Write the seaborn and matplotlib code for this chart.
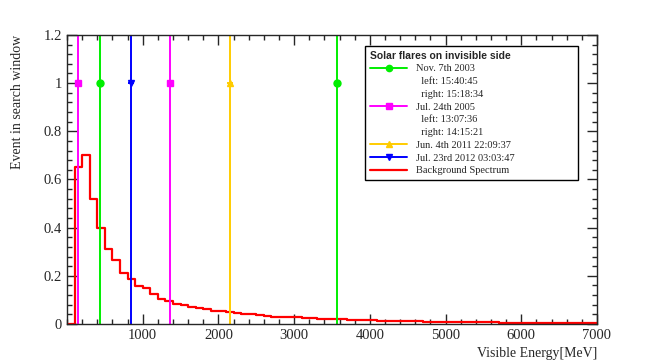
import numpy as np
import pandas as pd
import matplotlib
matplotlib.use('Agg')
import matplotlib.pyplot as plt
import seaborn as sns
from matplotlib.lines import Line2D
from matplotlib.ticker import MultipleLocator, FormatStrFormatter

# background spectrum, 100 MeV bins from 0 to 7000
bin_edges = list(range(0, 7001, 100))
bg_values = [0.0, 0.65, 0.70, 0.52, 0.40, 0.31, 0.265, 0.21, 0.185, 0.158,
             0.148, 0.125, 0.104, 0.097, 0.085, 0.077, 0.072, 0.066, 0.062, 0.055,
             0.052, 0.048, 0.045, 0.042, 0.040, 0.036, 0.033, 0.031, 0.030, 0.028,
             0.027, 0.025, 0.023, 0.022, 0.021, 0.020, 0.020, 0.018, 0.018, 0.016,
             0.015, 0.014, 0.013, 0.012, 0.012, 0.011, 0.011, 0.010, 0.010, 0.009,
             0.009, 0.008, 0.008, 0.008, 0.007, 0.007, 0.007, 0.006, 0.006, 0.006,
             0.006, 0.005, 0.005, 0.005, 0.005, 0.005, 0.004, 0.004, 0.004, 0.004]

# solar flare energies (MeV)
nov2003 = [438, 3568]
jul2005 = [141, 1355]
jun2011 = [2155]
jul2012 = [846]
flare_events = 1.0

sns.set_style('ticks')
plt.rcParams['font.family'] = ['Liberation Serif', 'DejaVu Serif']

fig = plt.figure(figsize=(6.64, 3.6), dpi=100)
ax = fig.add_axes([0.101, 0.1, 0.798, 0.803])

df = pd.DataFrame({'energy': [e + 50 for e in bin_edges[:-1]], 'events': bg_values})
sns.histplot(data=df, x='energy', weights='events', bins=bin_edges, element='step',
             fill=False, color='red', linewidth=1.6, ax=ax)

flares = [
    (nov2003, '#00ee00', 'o', 5),
    (jul2005, '#ff00ff', 's', 5),
    (jun2011, '#ffcc00', '^', 5),
    (jul2012, '#0000ff', 'v', 5),
]
for xs, col, mk, ms in flares:
    for x in xs:
        ax.axvline(x, color=col, lw=1.4)
        ax.errorbar(x, flare_events, xerr=40, color=col, marker=mk, ms=ms, lw=1.4)

ax.set_xlim(0, 7000)
ax.set_ylim(0, 1.2)
ax.xaxis.set_major_locator(MultipleLocator(1000))
ax.xaxis.set_minor_locator(MultipleLocator(200))
ax.yaxis.set_major_locator(MultipleLocator(0.2))
ax.yaxis.set_minor_locator(MultipleLocator(0.04))
ax.yaxis.set_major_formatter(FormatStrFormatter('%g'))
ax.tick_params(which='both', direction='in', top=True, right=True, labelsize=10.5, width=1)
ax.tick_params(which='major', length=7)
ax.tick_params(which='minor', length=3.5)
for s in ax.spines.values():
    s.set_linewidth(1)
ax.set_xticks([1000, 2000, 3000, 4000, 5000, 6000, 7000])

ax.set_xlabel('Visible Energy[MeV]', loc='right', fontsize=10)
ax.set_ylabel('Event in search window', loc='top', fontsize=10, labelpad=14)

handles = [
    Line2D([], [], color='#00ee00', marker='o', ms=4.5, lw=1.4),
    Line2D([], [], color='none'),
    Line2D([], [], color='none'),
    Line2D([], [], color='#ff00ff', marker='s', ms=4.5, lw=1.4),
    Line2D([], [], color='none'),
    Line2D([], [], color='none'),
    Line2D([], [], color='#ffcc00', marker='^', ms=4.5, lw=1.4),
    Line2D([], [], color='#0000ff', marker='v', ms=4.5, lw=1.4),
    Line2D([], [], color='red', lw=1.6),
]
labels = ['Nov. 7th 2003', '  left: 15:40:45', '  right: 15:18:34',
          'Jul. 24th 2005', '  left: 13:07:36', '  right: 14:15:21',
          'Jun. 4th 2011 22:09:37', 'Jul. 23rd 2012 03:03:47',
          'Background Spectrum']
leg = ax.legend(handles, labels, loc='upper left',
                bbox_to_anchor=(0.55, 0.503, 0.32, 0.369), mode='expand',
                bbox_transform=fig.transFigure, fontsize=7.5, frameon=True,
                fancybox=False, edgecolor='black', framealpha=1,
                title='Solar flares on invisible side', alignment='left',
                title_fontproperties={'family': 'Liberation Sans', 'weight': 'bold', 'size': 7.5},
                handlelength=3.6, labelspacing=0.33, borderpad=0.45, handletextpad=0.8,
                borderaxespad=0)
leg.get_frame().set_linewidth(1)

plt.savefig('out.png', dpi=100)
